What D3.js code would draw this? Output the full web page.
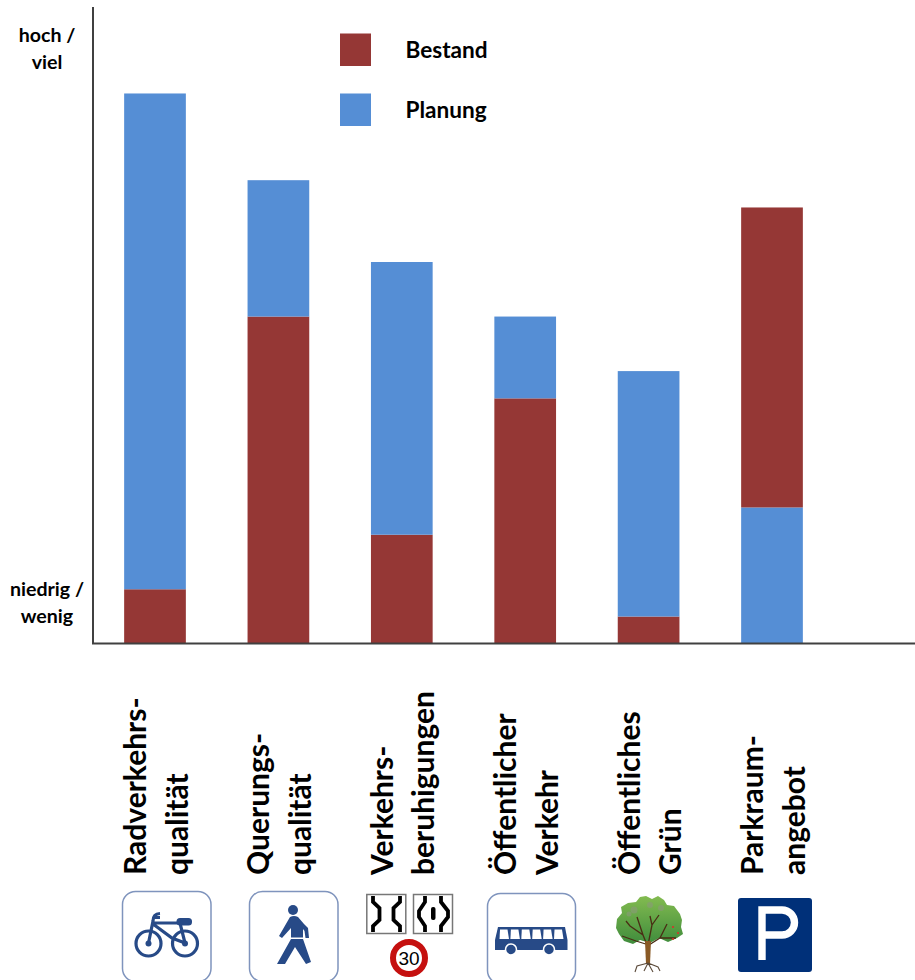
<!DOCTYPE html>
<html><head><meta charset="utf-8">
<script src="https://cdn.jsdelivr.net/npm/d3@7/dist/d3.min.js"></script>
<style>html,body{margin:0;padding:0;background:#fff}svg{display:block}text{font-family:Lato,"Open Sans",sans-serif;font-weight:700;fill:#000}</style>
</head><body><svg id="c" width="915" height="980"></svg>
<script>
const categories = ["Radverkehrsqualität","Querungsqualität","Verkehrsberuhigungen","Öffentlicher Verkehr","Öffentliches Grün","Parkraumangebot"];
const labelLines = [["Radverkehrs-","qualität"],["Querungs-","qualität"],["Verkehrs-","beruhigungen"],["Öffentlicher","Verkehr"],["Öffentliches","Grün"],["Parkraum-","angebot"]];
const bestand = [2,12,4,9,1,11];
const planung = [18.18,5,10,3,9,5];
const stackOrder = [["bestand","planung"],["bestand","planung"],["bestand","planung"],["bestand","planung"],["bestand","planung"],["planung","bestand"]];
const legendNames = ["Bestand","Planung"];
const yTickLabels = [["niedrig /","wenig"],["hoch /","viel"]];
const colors = {bestand:"#953735",planung:"#558ed5"};

const svg = d3.select("#c");
const defs = svg.append("defs");
const grad = defs.append("linearGradient").attr("id","crown").attr("x1",0).attr("y1",0).attr("x2",0).attr("y2",1);
grad.append("stop").attr("offset","0").attr("stop-color","#83bb50");
grad.append("stop").attr("offset","1").attr("stop-color","#3f8c3c");

const x = d3.scaleBand().domain(categories).range([93.3,833.7]).paddingInner(0.5).paddingOuter(0.25);
const y = d3.scaleLinear().domain([0,23.34]).range([643.8,7.3]);
const series = {bestand,planung};

categories.forEach((c,i)=>{
  let base=0;
  stackOrder[i].forEach(k=>{
    const v=series[k][i];
    svg.append("rect").attr("x",x(c)).attr("width",x.bandwidth())
      .attr("y",y(base+v)).attr("height",y(base)-y(base+v)).attr("fill",colors[k]);
    base+=v;
  });
});

svg.append("path").attr("d","M93 7V643.5H915").attr("fill","none").attr("stroke","#404040").attr("stroke-width",2);

// y labels
[[596,622.5],[42,69]].forEach((ys,j)=>{
  yTickLabels[j].forEach((t,n)=>{
    svg.append("text").attr("x",47).attr("y",ys[n]).attr("text-anchor","middle").attr("font-size",19.6).text(t);
  });
});

// legend
legendNames.forEach((n,i)=>{
  svg.append("rect").attr("x",340).attr("y",33.5+i*60).attr("width",31).attr("height",32.5).attr("fill",colors[n.toLowerCase()]);
  svg.append("text").attr("x",405.5).attr("y",58+i*60).attr("font-size",22.6).text(n);
});

// rotated labels
const lineOffsets = [-9,32.5];
categories.forEach((c,i)=>{
  const cx=x(c)+x.bandwidth()/2;
  labelLines[i].forEach((t,n)=>{
    svg.append("text").attr("transform",`translate(${cx+lineOffsets[n]},875) rotate(-90)`).attr("font-size",30).text(t);
  });
});

// icons
const blue="#274a87", frame="#7f94bd";
function roundFrame(px,py,w,h){svg.append("rect").attr("x",px).attr("y",py).attr("width",w).attr("height",h).attr("rx",13).attr("fill","#fff").attr("stroke",frame).attr("stroke-width",1.5);}
// bike
roundFrame(122.5,891.5,88.5,90);
let g=svg.append("g").attr("fill","none").attr("stroke",blue).attr("stroke-width",3.2);
g.append("circle").attr("cx",148.5).attr("cy",943.5).attr("r",12.5);
g.append("circle").attr("cx",185).attr("cy",943.5).attr("r",12.5);
g.append("path").attr("d","M148.5 943 L153 921 Q153 914 160 913.5 M153 917.5 H160 M153 923 H180 L185 943 M153 924 L172 938 L185 943");
svg.append("rect").attr("x",176.5).attr("y",918).attr("width",15.5).attr("height",7.5).attr("rx",3.5).attr("fill",blue);
svg.append("circle").attr("cx",148.5).attr("cy",943.5).attr("r",3).attr("fill",blue);
svg.append("circle").attr("cx",185).attr("cy",943.5).attr("r",3).attr("fill",blue);
// pedestrian
roundFrame(249.5,891.5,88.5,90);
svg.append("circle").attr("cx",293).attr("cy",910).attr("r",5).attr("fill",blue);
svg.append("path").attr("d","M290 917 Q294 915 298 917 L304 924 L308 928 L309 938 L305.5 938 L304.5 931 L303 929 V937.5 H291 V928 L282 938 L279 936 Z").attr("fill",blue);
svg.append("path").attr("d","M291 939 H303 L311 962 L306 964 L295 947 L285 964 H277 Z").attr("fill",blue);
// narrowings
function sign(px){svg.append("rect").attr("x",px).attr("y",894.5).attr("width",39).attr("height",39).attr("fill","#fff").attr("stroke","#777").attr("stroke-width",1.5);}
sign(366.8);sign(413.5);
let r=svg.append("g").attr("fill","none").attr("stroke","#000").attr("stroke-width",3.8);
r.append("path").attr("d","M373 896V902L379.5 908V920L373 926V932");
r.append("path").attr("d","M400 896V902L393.5 908V920L400 926V932");
r.append("path").attr("d","M425 896V902L419 911V917L425 926V932");
r.append("path").attr("d","M441 896V902L448 911V917L441 926V932");
svg.append("rect").attr("x",431).attr("y",907).attr("width",4.5).attr("height",13).attr("rx",2).attr("fill","#000");
svg.append("circle").attr("cx",409).attr("cy",958).attr("r",16).attr("fill","#fff").attr("stroke","#c5100f").attr("stroke-width",6);
svg.append("text").attr("x",409).attr("y",965).attr("text-anchor","middle").attr("font-size",19).style("font-weight",400).style("font-family","Liberation Sans").text("30");
// bus
roundFrame(487.5,893.5,88,90);
svg.append("path").attr("d","M498 927 H565 L567.5 940 V950 H495 V940 Z").attr("fill",blue);
d3.range(6).forEach(d=>{const a=498.5+d*10.9;svg.append("path").attr("d",`M${a+1.5} 929.5 H${a+9} L${a+10.5} 939 H${a+1} Z`).attr("fill","#fff");});
[511,549].forEach(cx=>svg.append("circle").attr("cx",cx).attr("cy",949.5).attr("r",5.5).attr("fill",blue).attr("stroke","#fff").attr("stroke-width",1.5));
// tree
svg.append("path").attr("d","M646 896 L652 899 L658 896 L664 900 L667 905 L674 906 L680 914 L682 920 L681 927 L683 934 L677 938 L668 942 L659 938 L650 943 L640 940 L633 944 L624 941 L619 934 L616 928 L617 919 L622 913 L621 907 L628 903 L636 902 L640 897 Z").attr("fill","url(#crown)");
[[634,910,3.5],[650,905,3],[661,908,3],[629,914,2.5]].forEach(d=>svg.append("circle").attr("cx",d[0]).attr("cy",d[1]).attr("r",d[2]).attr("fill","#8a9a7a").attr("opacity",.6));
svg.append("path").attr("d","M647 945 L643 935 L630 926 L626 921 M643 935 L637 917 M648 945 L652 925 L650 916 M652 925 L659 915 M649 945 L660 938 L676 938 M660 938 L667 924 M649 945 L636 941 L622 936").attr("fill","none").attr("stroke","#4a2d14").attr("stroke-width",1.3);
svg.append("path").attr("d","M645 941 L651 941 L650 964 H646 Z").attr("fill","#8a5a26");
svg.append("path").attr("d","M648 963 L637 966 L635 972 M648 963 L644 971 M648 963 L653 972 M648 963 L658 967 L660 971").attr("fill","none").attr("stroke","#5b4a3a").attr("stroke-width",1.1);
[[673,927],[678,933],[673,939]].forEach(d=>svg.append("circle").attr("cx",d[0]).attr("cy",d[1]).attr("r",1.1).attr("fill","#d8332a"));
// parking
svg.append("rect").attr("x",738).attr("y",898).attr("width",74).attr("height",74).attr("rx",3).attr("fill","#003079");
svg.append("path").attr("d","M762 960 V910 H782 A12.5 12.5 0 0 1 782 935 H762").attr("fill","none").attr("stroke","#fff").attr("stroke-width",7.4);
</script></body></html>
